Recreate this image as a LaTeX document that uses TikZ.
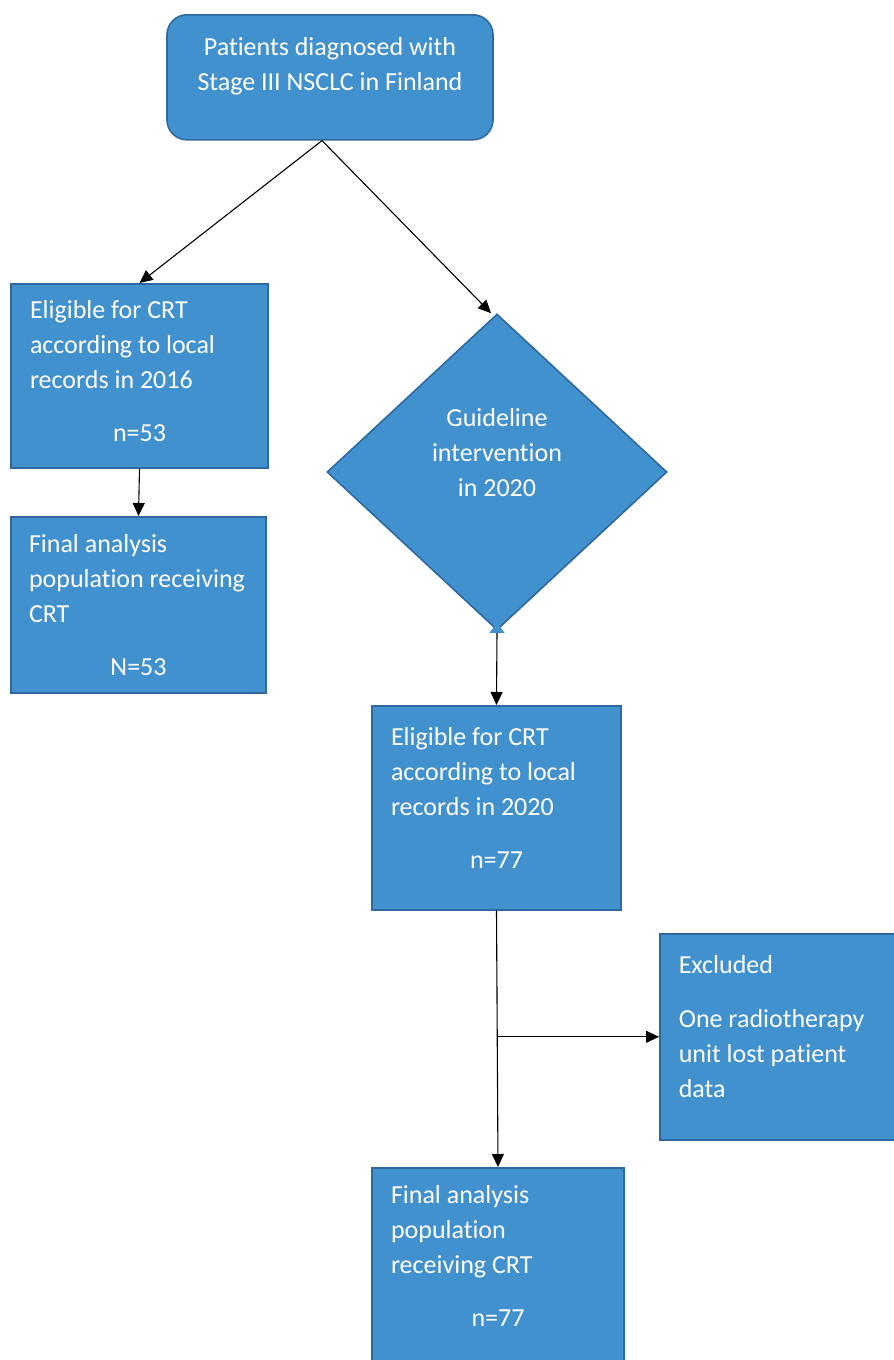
\documentclass[tikz,border=0pt]{standalone}
\usepackage{fontspec}
\setmainfont{Carlito}[Ligatures=NoCommon]
\usetikzlibrary{arrows.meta,shapes.geometric}
\definecolor{boxblue}{RGB}{66,145,207}
\definecolor{boxedge}{RGB}{47,105,160}
\newcommand{\lift}[1]{\rule[-#1]{0pt}{#1}}
\newcommand{\midline}[1]{\makebox[\linewidth]{#1}}

\begin{document}
\begin{tikzpicture}[x=1pt,y=-1pt,>={Triangle[length=13pt,width=12pt]},
  box/.style={draw=boxedge,fill=boxblue,line width=1.6pt,text=white,
    font={\fontsize{26}{35}\selectfont\hyphenpenalty=10000},inner xsep=19pt,inner ysep=0pt},
  leftbox/.style={box,align=flush left,text width=#1},
  link/.style={->,line width=1.1pt}]
  \path[use as bounding box,fill=white] (0,0) rectangle (894,1360);

  \node[box,rounded corners=20pt,align=center,minimum width=326pt,minimum height=125pt,anchor=north]
    (start) at (330,14) {Patients diagnosed with\\Stage III NSCLC in Finland\lift{27pt}};

  % 2016 branch
  \node[leftbox=219pt,minimum height=184pt,anchor=north] (elig16) at (139.5,283)
    {Eligible for CRT\\according to local\\records in 2016\\[18pt]\midline{n=53}\lift{10pt}};
  \node[leftbox=219pt,inner xsep=18pt,minimum height=176pt,anchor=north] (final16) at (138.5,516)
    {Final analysis\\population receiving\\CRT\\[18pt]\midline{N=53}};

  % 2020 branch
  \node[box,diamond,align=center,minimum width=340pt,minimum height=316pt,inner sep=0pt]
    (guide) at (497,472) {Guideline\\intervention\\in 2020\lift{39pt}};
  \node[leftbox=211pt,minimum height=204pt,anchor=north] (elig20) at (496.5,705)
    {Eligible for CRT\\according to local\\records in 2020\\[18pt]\midline{n=77}\lift{19pt}};
  \node[leftbox=212pt,minimum height=206pt,anchor=north west] (excl) at (659,933)
    {Excluded\\[19pt]One radiotherapy\\unit lost patient\\data\lift{20pt}};
  \node[leftbox=214pt,minimum height=204pt,anchor=north] (final20) at (498,1167)
    {Final analysis\\population\\receiving CRT\\[18pt]\midline{n=77}\lift{27pt}};

  \draw[link] ([xshift=-8pt]start.south) -- (elig16.north);
  \draw[link] ([xshift=-8pt]start.south) -- ([xshift=-6pt]guide.north);
  \draw[link] (elig16.south) -- (final16.north);
  \draw[line width=1.1pt,{Triangle[length=10pt,width=15pt,color=boxblue]}->,shorten <=-8pt]
    (guide.south) -- (elig20.north);
  \draw[link] (elig20.south) -- (final20.north);
  \coordinate (branch) at (elig20.south |- excl.west);
  \draw[link] (branch) -- (excl.west);
\end{tikzpicture}
\end{document}
